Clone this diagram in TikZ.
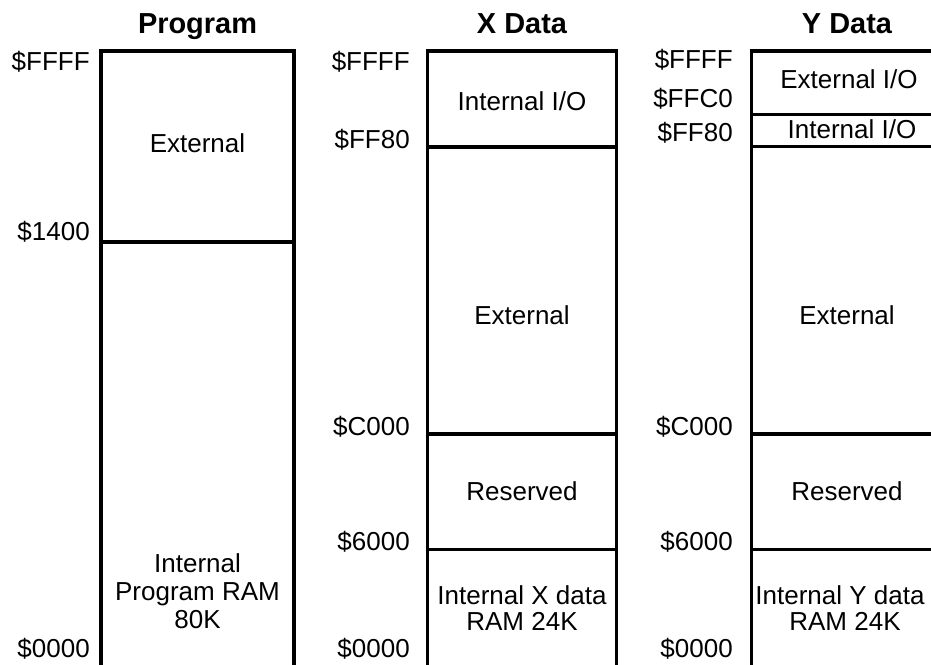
\documentclass[tikz,border=0pt]{standalone}
\usepackage{fontspec}
\setmainfont{Liberation Sans}
\begin{document}
\begin{tikzpicture}[x=0.75pt,y=-0.75pt,
  wall/.style={line width=2.6pt, line join=miter},
  addr/.style={anchor=base east, inner sep=0pt, font=\fontsize{19.5}{23}\selectfont},
  ttl/.style={anchor=base, inner sep=0pt, font=\bfseries\fontsize{21.7}{26}\selectfont},
  lbl/.style={anchor=base, inner sep=0pt, font=\fontsize{19.5}{23}\selectfont}]
\useasboundingbox (0,0) rectangle (931,664);
\clip (0,0) rectangle (931,664);

% titles
\node[ttl] (tp) at (197.5,33) {Program};
\node[ttl] (tx) at (522,33) {X Data};
\node[ttl] (ty) at (847,33) {Y Data};

% Program column
\draw[wall] (101,670) -- (101,51) -- (294,51) -- (294,670);
\draw[wall] (99,242) -- (294,242);
\node[addr] (pffff) at (90,70.7) {\$FFFF};
\node[addr] (p1400) at (90,240.7) {\$1400};
\node[addr] (p0000) at (90,657) {\$0000};
\node[lbl] (pext) at (197.5,152.7) {External};
\node[lbl] (pint1) at (197.5,572) {Internal};
\node[lbl] (pint2) at (197.5,600) {Program RAM};
\node[lbl] (pint3) at (197.5,628) {80K};

% X Data column
\draw[wall] (427.3,670) -- (427.3,51) -- (616.7,51) -- (616.7,670);
\draw[wall] (427.3,147) -- (616.7,147);
\draw[wall] (427.3,434) -- (616.7,434);
\draw[wall] (427.3,549.5) -- (616.7,549.5);
\node[addr] (xffff) at (410,70.7) {\$FFFF};
\node[addr] (xff80) at (410,148) {\$FF80};
\node[addr] (xc000) at (410,435) {\$C000};
\node[addr] (x6000) at (410,550) {\$6000};
\node[addr] (x0000) at (410,657) {\$0000};
\node[lbl] (xio) at (522,110) {Internal I/O};
\node[lbl] (xext) at (522,324) {External};
\node[lbl] (xres) at (522,500) {Reserved};
\node[lbl] (xram1) at (522,604) {Internal X data};
\node[lbl] (xram2) at (522,630) {RAM 24K};

% Y Data column
\draw[wall] (751.7,670) -- (751.7,51) -- (945,51);
\draw[wall] (751.7,114.7) -- (945,114.7);
\draw[wall] (751.7,146.5) -- (945,146.5);
\draw[wall] (751.7,434) -- (945,434);
\draw[wall] (751.7,549.5) -- (945,549.5);
\node[addr] (yffff) at (733,68) {\$FFFF};
\node[addr] (yffc0) at (733,107) {\$FFC0};
\node[addr] (yff80) at (733,141.5) {\$FF80};
\node[addr] (yc000) at (733,435) {\$C000};
\node[addr] (y6000) at (733,550) {\$6000};
\node[addr] (y0000) at (733,657) {\$0000};
\node[lbl] (yeio) at (849,88) {External I/O};
\node[lbl] (yiio) at (852,138) {Internal I/O};
\node[lbl] (yext) at (847,324) {External};
\node[lbl] (yres) at (847,500) {Reserved};
\node[lbl] (yram1) at (840,604) {Internal Y data};
\node[lbl] (yram2) at (845,630) {RAM 24K};
\end{tikzpicture}
\end{document}
